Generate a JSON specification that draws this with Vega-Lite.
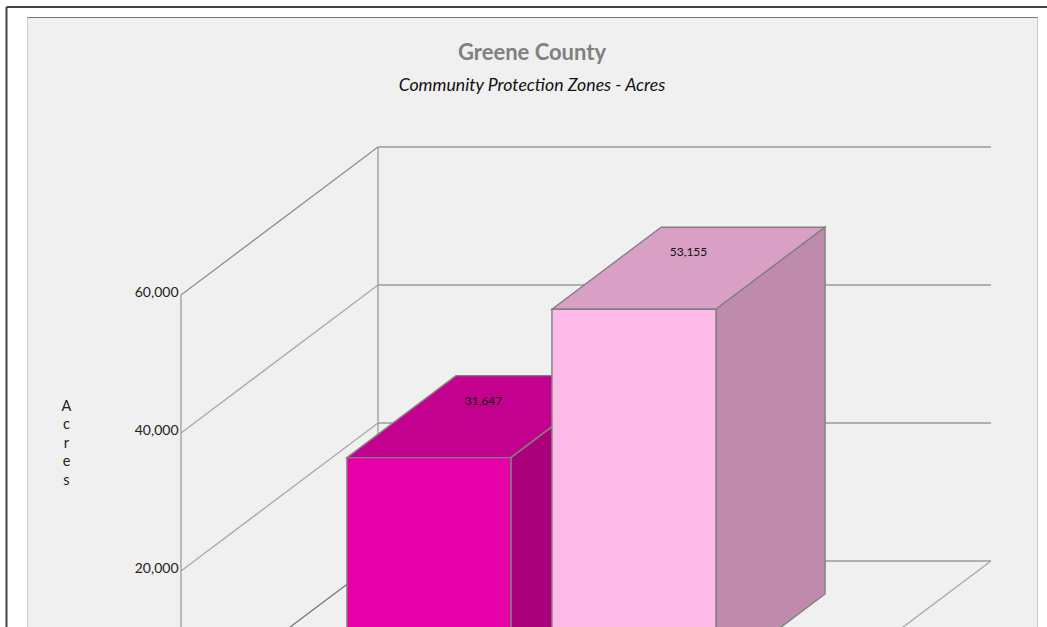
{
  "$schema": "https://vega.github.io/schema/vega-lite/v6.json",
  "autosize": "none",
  "width": 1010,
  "height": 610,
  "padding": {"left": 27, "top": 17, "right": 10, "bottom": 0},
  "background": "#ffffff",
  "view": {"fill": "#f0f0f0", "stroke": "#cccccc"},
  "title": {
    "text": "Greene County",
    "subtitle": "Community Protection Zones - Acres",
    "anchor": "middle",
    "frame": "group",
    "offset": -90,
    "font": "Lato",
    "fontSize": 22,
    "fontWeight": "bold",
    "color": "#808080",
    "subtitleFont": "Lato",
    "subtitleFontSize": 17.7,
    "subtitleFontStyle": "italic",
    "subtitleColor": "#111111",
    "subtitlePadding": 12
  },
  "datasets": {
    "zones": [
      {"zone": "Zone A", "acres": 31647, "center": 204},
      {"zone": "Zone B", "acres": 53155, "center": 409}
    ],
    "levels": [
      {"level": 0},
      {"level": 20000},
      {"level": 40000},
      {"level": 60000}
    ]
  },
  "encoding": {
    "x": {
      "field": "x",
      "type": "quantitative",
      "scale": {"domain": [-154, 856], "nice": false, "zero": false},
      "axis": {"orient": "top", "title": null, "labels": false, "ticks": false, "grid": false, "domain": true, "domainColor": "#777777", "domainWidth": 1}
    },
    "y": {
      "field": "y",
      "type": "quantitative",
      "scale": {"domain": [11884, 100290], "nice": false, "zero": false},
      "axis": {
        "values": [20000, 40000, 60000],
        "labelExpr": "format(datum.value, ',')",
        "offset": -154,
        "domain": false,
        "ticks": false,
        "grid": false,
        "labelFont": "Lato",
        "labelFontSize": 14,
        "labelColor": "#222222",
        "labelPadding": 3,
        "labelOffset": -2.5,
        "title": ["A", "c", "r", "e", "s"],
        "titleAngle": 0,
        "titleFont": "Lato",
        "titleFontSize": 14.5,
        "titleFontWeight": "normal",
        "titleColor": "#222222",
        "titleAlign": "center",
        "titleBaseline": "top",
        "titleLineHeight": 18.5,
        "titleX": -115,
        "titleY": 382
      }
    }
  },
  "layer": [
    {
      "data": {"name": "levels"},
      "transform": [
        {"calculate": "197", "as": "x"},
        {"calculate": "810", "as": "xEnd"},
        {"calculate": "datum.level + 21449", "as": "y"}
      ],
      "mark": {"type": "rule", "stroke": "#707070", "strokeWidth": 1, "clip": true},
      "encoding": {"x2": {"field": "xEnd"}}
    },
    {
      "data": {"name": "levels"},
      "transform": [
        {"calculate": "[0, 1]", "as": "depth"},
        {"flatten": ["depth"]},
        {"calculate": "197 * datum.depth", "as": "x"},
        {"calculate": "datum.level + 21449 * datum.depth", "as": "y"}
      ],
      "mark": {"type": "line", "strokeWidth": 1.3, "clip": true},
      "encoding": {
        "detail": {"field": "level"},
        "color": {
          "field": "level",
          "type": "nominal",
          "scale": {"domain": [0, 20000, 40000, 60000], "range": ["#777777", "#a8a8a8", "#a8a8a8", "#909090"]},
          "legend": null
        }
      }
    },
    {
      "data": {"values": [{"wall": "front", "x": 0, "y": 60000, "yEnd": 0}, {"wall": "back", "x": 197, "y": 81449, "yEnd": 21449}]},
      "mark": {"type": "rule", "stroke": "#959595", "strokeWidth": 1.2, "clip": true},
      "encoding": {"y2": {"field": "yEnd"}}
    },
    {
      "data": {"values": [{"x": 613, "y": 0}, {"x": 810, "y": 21449}]},
      "mark": {"type": "line", "stroke": "#a8a8a8", "strokeWidth": 1.3, "clip": true}
    },
    {
      "data": {"name": "zones"},
      "transform": [
        {"calculate": "[0.223, 0.777]", "as": "depth"},
        {"flatten": ["depth"]},
        {"calculate": "datum.center - 82 + 197 * datum.depth", "as": "x"},
        {"calculate": "datum.center + 82 + 197 * datum.depth", "as": "xEnd"},
        {"calculate": "datum.acres + 21449 * datum.depth", "as": "y"}
      ],
      "mark": {"type": "area", "orient": "horizontal", "stroke": "#808080", "strokeWidth": 1.4, "clip": true},
      "encoding": {
        "x2": {"field": "xEnd"},
        "detail": {"field": "zone"},
        "fill": {
          "field": "zone",
          "type": "nominal",
          "scale": {"domain": ["Zone A", "Zone B"], "range": ["#c4008e", "#d99fc5"]},
          "legend": null
        }
      }
    },
    {
      "data": {"name": "zones"},
      "transform": [
        {"calculate": "[0.223, 0.777]", "as": "depth"},
        {"flatten": ["depth"]},
        {"calculate": "datum.center + 82 + 197 * datum.depth", "as": "x"},
        {"calculate": "datum.acres + 21449 * datum.depth", "as": "y"},
        {"calculate": "21449 * datum.depth", "as": "yBase"}
      ],
      "mark": {"type": "area", "stroke": "#808080", "strokeWidth": 1.4, "clip": true},
      "encoding": {
        "y2": {"field": "yBase"},
        "detail": {"field": "zone"},
        "fill": {
          "field": "zone",
          "type": "nominal",
          "scale": {"domain": ["Zone A", "Zone B"], "range": ["#ab007c", "#bf8bac"]},
          "legend": null
        }
      }
    },
    {
      "data": {"name": "zones"},
      "transform": [
        {"calculate": "datum.center - 82 + 197 * 0.223", "as": "x"},
        {"calculate": "datum.center + 82 + 197 * 0.223", "as": "xEnd"},
        {"calculate": "datum.acres + 21449 * 0.223", "as": "y"},
        {"calculate": "21449 * 0.223", "as": "yBase"}
      ],
      "mark": {"type": "rect", "stroke": "#808080", "strokeWidth": 1.4, "clip": true},
      "encoding": {
        "x2": {"field": "xEnd"},
        "y2": {"field": "yBase"},
        "fill": {
          "field": "zone",
          "type": "nominal",
          "scale": {"domain": ["Zone A", "Zone B"], "range": ["#e600a8", "#ffbbe8"]},
          "legend": null
        }
      }
    },
    {
      "data": {"name": "zones"},
      "transform": [
        {"calculate": "datum.center + 197 * 0.5", "as": "x"},
        {"calculate": "datum.acres + 21449 * 0.5", "as": "y"}
      ],
      "mark": {"type": "text", "font": "Lato", "fontSize": 12, "color": "#111111", "dy": -16, "align": "center", "baseline": "middle"},
      "encoding": {"text": {"field": "acres", "type": "quantitative", "format": ","}}
    },
    {
      "data": {"values": [{"x": -174.5, "xEnd": 866, "y": 101739, "yEnd": 101739}, {"x": -174.5, "xEnd": -174.5, "y": 101739, "yEnd": 11884}]},
      "mark": {"type": "rule", "stroke": "#444444", "strokeWidth": 2},
      "encoding": {"x2": {"field": "xEnd"}, "y2": {"field": "yEnd"}}
    }
  ],
  "resolve": {"scale": {"fill": "independent", "color": "independent"}}
}
